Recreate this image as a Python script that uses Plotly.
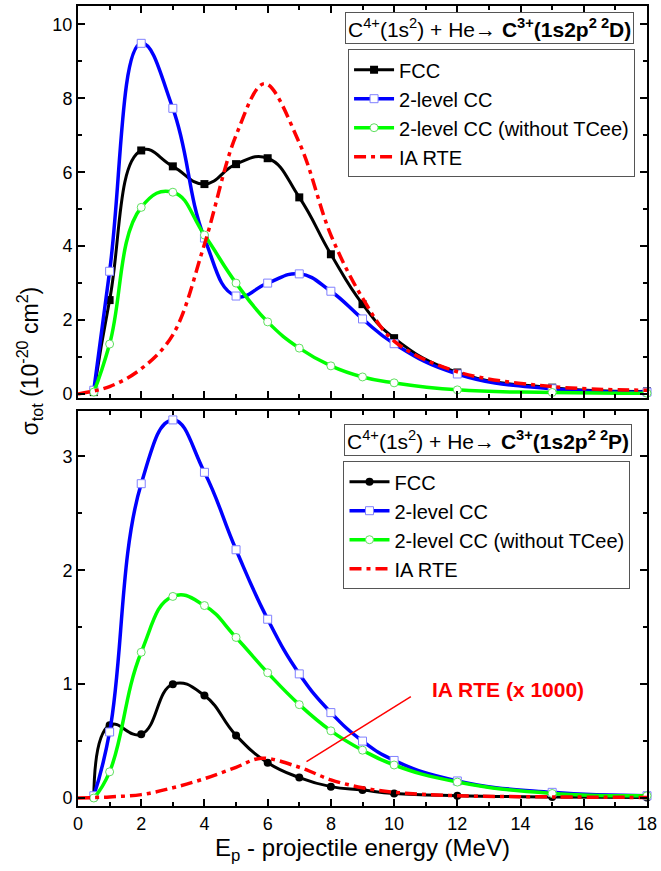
import plotly.graph_objects as go

# ---------------- data ----------------
E = [0.5, 1, 2, 3, 4, 5, 6, 7, 8, 9, 10, 12, 15, 18]

# top panel: C3+(1s2p2 2D)
fcc_D = [0.05, 2.54, 6.59, 6.16, 5.68, 6.22, 6.38, 5.32, 3.78, 2.43, 1.51, 0.58, 0.17, 0.07]
cc2_D = [0.10, 3.32, 9.49, 7.73, 4.22, 2.65, 3.00, 3.25, 2.78, 2.03, 1.36, 0.54, 0.14, 0.05]
cc2n_D = [0.05, 1.35, 5.05, 5.46, 4.30, 3.00, 1.95, 1.24, 0.76, 0.46, 0.30, 0.11, 0.04, 0.02]
E_ia = [0, 1, 2, 3, 4, 5, 5.9, 7, 8, 9, 10, 12, 15, 18]
ia_D = [0.0, 0.2, 0.68, 1.6, 4.05, 7.0, 8.4, 6.8, 4.3, 2.6, 1.43, 0.6, 0.2, 0.1]

# bottom panel: C3+(1s2p2 2P)
fcc_P = [0.0, 0.64, 0.56, 1.00, 0.90, 0.55, 0.31, 0.18, 0.10, 0.07, 0.04, 0.02, 0.01, 0.005]
cc2_P = [0.02, 0.58, 2.76, 3.32, 2.86, 2.18, 1.57, 1.09, 0.75, 0.50, 0.33, 0.15, 0.05, 0.02]
cc2n_P = [0.0, 0.23, 1.28, 1.77, 1.69, 1.41, 1.10, 0.82, 0.59, 0.42, 0.29, 0.14, 0.04, 0.02]
E_iaP = [0, 1, 2, 3, 4, 5, 5.8, 7, 8, 9, 10, 12, 15, 18]
ia_P = [0.0, 0.01, 0.03, 0.09, 0.17, 0.27, 0.35, 0.27, 0.16, 0.09, 0.05, 0.02, 0.01, 0.005]

names = ["FCC", "2-level CC", "2-level CC (without TCee)", "IA RTE"]
x_ticks = [0, 2, 4, 6, 8, 10, 12, 14, 16, 18]

FONT = "Arial, Liberation Sans, sans-serif"
BLACK = "#000000"
BLUE = "#0000ff"
GREEN = "#00ff00"
RED = "#ff0000"
DASHDOT = "12px,5px,4px,5px"

fig = go.Figure()


def add_panel(yaxis, legend, fcc, cc2, cc2n, eia, ia, fcc_symbol):
    xa = "x" if yaxis == "y" else "x2"
    fig.add_trace(go.Scatter(
        x=E, y=fcc, name=names[0], mode="lines+markers",
        line=dict(color=BLACK, width=3, shape="spline", smoothing=1.3),
        marker=dict(symbol=fcc_symbol, size=8, color=BLACK),
        xaxis=xa, yaxis=yaxis, legend=legend, cliponaxis=False))
    fig.add_trace(go.Scatter(
        x=E, y=cc2, name=names[1], mode="lines+markers",
        line=dict(color=BLUE, width=3.5, shape="spline", smoothing=1.3),
        marker=dict(symbol="square", size=8, color="white", line=dict(color="#8080ff", width=1)),
        xaxis=xa, yaxis=yaxis, legend=legend, cliponaxis=False))
    fig.add_trace(go.Scatter(
        x=E, y=cc2n, name=names[2], mode="lines+markers",
        line=dict(color=GREEN, width=3.5, shape="spline", smoothing=1.3),
        marker=dict(symbol="circle", size=8, color="white", line=dict(color="#60e060", width=1)),
        xaxis=xa, yaxis=yaxis, legend=legend, cliponaxis=False))
    fig.add_trace(go.Scatter(
        x=eia, y=ia, name=names[3], mode="lines",
        line=dict(color=RED, width=3.5, shape="spline", smoothing=1, dash=DASHDOT),
        xaxis=xa, yaxis=yaxis, legend=legend, cliponaxis=False))


add_panel("y", "legend", fcc_D, cc2_D, cc2n_D, E_ia, ia_D, "square")
add_panel("y2", "legend2", fcc_P, cc2_P, cc2n_P, E_iaP, ia_P, "circle")

axis_common = dict(
    showline=True, linecolor="black", linewidth=2, mirror="ticks",
    ticks="inside", ticklen=7, tickwidth=1.5, tickcolor="black",
    showgrid=False, zeroline=False,
    tickfont=dict(family=FONT, size=18, color="black"),
)
minor_x = dict(ticks="inside", dtick=1, ticklen=4, tickcolor="black", tickwidth=1.5)

fig.update_layout(
    width=661, height=871,
    margin=dict(l=78, r=11, t=4, b=65),
    plot_bgcolor="white", paper_bgcolor="white",
    font=dict(family=FONT, color="black"),
    xaxis=dict(domain=[0, 1], range=[0, 18], anchor="y", tickvals=x_ticks, showticklabels=False,
               minor=minor_x, **axis_common),
    yaxis=dict(domain=[0.51, 1], range=[-0.11, 10.5], anchor="x", dtick=2,
               minor=dict(ticks="inside", dtick=1, ticklen=4, tickcolor="black", tickwidth=1.5),
               **axis_common),
    xaxis2=dict(domain=[0, 1], range=[0, 18], anchor="y2", tickvals=x_ticks, minor=minor_x,
                title=dict(text="E<sub>p</sub> - projectile energy (MeV)",
                           font=dict(family=FONT, size=24), standoff=6),
                **axis_common),
    yaxis2=dict(domain=[0, 0.494], range=[-0.07, 3.4], anchor="x2", dtick=1,
                minor=dict(ticks="inside", dtick=0.5, ticklen=4, tickcolor="black", tickwidth=1.5),
                **axis_common),
    legend=dict(x=0.979, y=0.946, xanchor="right", yanchor="top",
                bordercolor="#555555", borderwidth=1, bgcolor="white",
                font=dict(family=FONT, size=20), tracegroupgap=0, itemwidth=40),
    legend2=dict(x=0.971, y=0.431, xanchor="right", yanchor="top",
                 bordercolor="#555555", borderwidth=1, bgcolor="white",
                 font=dict(family=FONT, size=20), tracegroupgap=0, itemwidth=40),
    showlegend=True,
)

annos = [
    dict(text="C<sup>4+</sup>(1s<sup>2</sup>) + He\u2192 <b>C<sup>3+</sup>(1s2p<sup>2 2</sup>D)</b>",
         xref="paper", yref="paper", x=0.977, y=0.9925, xanchor="right", yanchor="top",
         showarrow=False, bordercolor="#555555", borderwidth=1, bgcolor="white", borderpad=2,
         font=dict(family=FONT, size=21, color="black")),
    dict(text="C<sup>4+</sup>(1s<sup>2</sup>) + He\u2192 <b>C<sup>3+</sup>(1s2p<sup>2 2</sup>P)</b>",
         xref="paper", yref="paper", x=0.974, y=0.4776, xanchor="right", yanchor="top",
         showarrow=False, bordercolor="#555555", borderwidth=1, bgcolor="white", borderpad=2,
         font=dict(family=FONT, size=21, color="black")),
    dict(text="<b>IA RTE (x 1000)</b>", xref="x2", yref="y2", x=13.6, y=0.95,
         showarrow=False, font=dict(family=FONT, size=21, color=RED)),
    dict(text="\u03c3<sub>tot</sub> (10<sup>-20</sup> cm<sup>2</sup>)", xref="paper", yref="paper",
         x=-0.0857, y=0.556, textangle=-90, showarrow=False, xanchor="center", yanchor="middle",
         font=dict(family=FONT, size=23, color="black")),
]
fig.update_layout(annotations=annos)

fig.add_shape(type="line", xref="x2", yref="y2", x0=10.53, y0=0.89, x1=7.23, y1=0.32,
              line=dict(color=RED, width=1.5))

fig.write_html("out.html")
